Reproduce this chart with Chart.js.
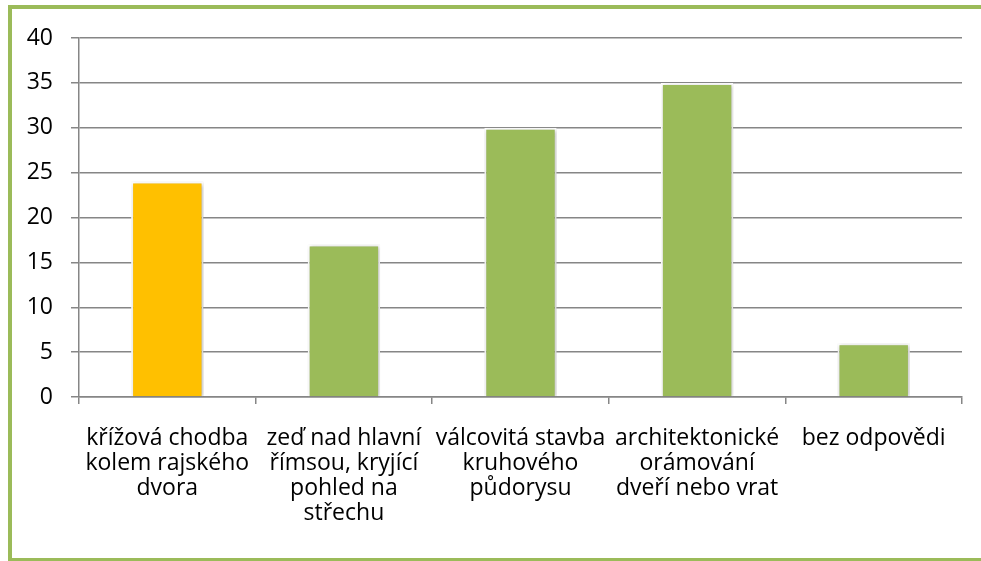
<!DOCTYPE html>
<html>
<head>
<meta charset="utf-8">
<script src="https://cdn.jsdelivr.net/npm/chart.js@4.4.0/dist/chart.umd.min.js"></script>
<style>
  html, body { margin: 0; padding: 0; background: #fff; overflow: hidden; }
  #frame {
    position: absolute; left: 8px; top: 5px; width: 990px; height: 549px;
    border: 4px solid #9bbb59; box-sizing: content-box;
  }
  #chart { position: absolute; left: 0; top: 0; }
</style>
</head>
<body>
<div id="frame"></div>
<canvas id="chart" width="981" height="561"></canvas>
<script>
// data
const categories = [
  ['křížová chodba', 'kolem rajského', 'dvora'],
  ['zeď nad hlavní', 'římsou, kryjící', 'pohled na', 'střechu'],
  ['válcovitá stavba', 'kruhového', 'půdorysu'],
  ['architektonické', 'orámování', 'dveří nebo vrat'],
  ['bez odpovědi']
];
const values = [24, 17, 30, 35, 6];
const barColors = ['#ffc000', '#9bbb59', '#9bbb59', '#9bbb59', '#9bbb59'];
const yTicks = [0, 5, 10, 15, 20, 25, 30, 35, 40];

const fontFamily = '"Open Sans", "Noto Sans", sans-serif';

// soft shadow round the bars
const barShadow = {
  id: 'barShadow',
  beforeDatasetDraw(chart) {
    const ctx = chart.ctx;
    ctx.save();
    ctx.shadowColor = 'rgba(0,0,0,0.28)';
    ctx.shadowBlur = 4;
    ctx.shadowOffsetX = 1;
    ctx.shadowOffsetY = 1;
  },
  afterDatasetDraw(chart) {
    chart.ctx.restore();
  }
};

new Chart(document.getElementById('chart'), {
  type: 'bar',
  data: {
    labels: categories,
    datasets: [{
      data: values,
      backgroundColor: barColors,
      borderColor: '#ffffff',
      borderWidth: { left: 2, right: 2, top: 2, bottom: 0 },
      borderSkipped: false,
      categoryPercentage: 1,
      barPercentage: 0.41
    }]
  },
  options: {
    responsive: false,
    animation: false,
    layout: { padding: { top: 38, right: 19, left: 0, bottom: 0 } },
    plugins: {
      legend: { display: false },
      tooltip: { enabled: false }
    },
    scales: {
      x: {
        grid: {
          offset: true,
          drawOnChartArea: false,
          color: '#868686',
          lineWidth: 1.5,
          tickLength: 7
        },
        border: { color: '#868686', width: 1.5 },
        ticks: {
          color: '#000',
          padding: 22,
          maxRotation: 0,
          autoSkip: false,
          font: { family: fontFamily, size: 23, lineHeight: '25px' }
        },
        afterFit(scale) { scale.height = 164; }
      },
      y: {
        min: 0,
        max: 40,
        afterBuildTicks(scale) { scale.ticks = yTicks.map(v => ({ value: v })); },
        grid: {
          color: '#868686',
          lineWidth: 1.5,
          tickLength: 8
        },
        border: { color: '#868686', width: 1.5 },
        ticks: {
          color: '#000',
          padding: 18,
          font: { family: fontFamily, size: 23 }
        },
        afterFit(scale) { scale.width = 79; }
      }
    }
  },
  plugins: [barShadow]
});
</script>
</body>
</html>
